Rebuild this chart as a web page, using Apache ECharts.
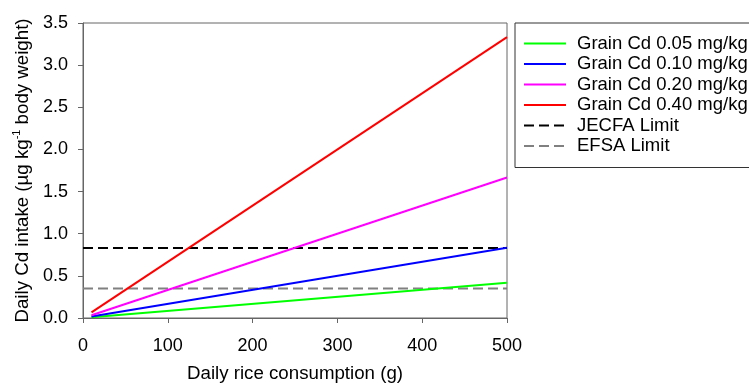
<!DOCTYPE html>
<html>
<head>
<meta charset="utf-8">
<script src="https://cdn.jsdelivr.net/npm/echarts@6/dist/echarts.min.js"></script>
<style>
  html, body { margin: 0; padding: 0; background: #fff; }
  #main { width: 749px; height: 383px; }
</style>
</head>
<body>
<div id="main"></div>
<script>
// rice consumption (g) at start / end of each line
const riceX = [10, 500];
const grain005 = [0.008, 0.417];
const grain010 = [0.017, 0.833];
const grain020 = [0.033, 1.667];
const grain040 = [0.067, 3.333];
// limits drawn across whole axis
const limitX = [0, 500];
const jecfa = [0.83, 0.83];
const efsa = [0.35, 0.35];

const FONT = 'Arial, "Liberation Sans", sans-serif';
const pairs = (xs, ys) => xs.map((x, i) => [x, ys[i]]);

const chart = echarts.init(document.getElementById('main'));

function lineSeries(name, xs, ys, color, dashed) {
  return {
    name: name,
    type: 'line',
    data: pairs(xs, ys),
    symbol: 'none',
    silent: true,
    animation: false,
    lineStyle: { color: color, width: 2, type: dashed ? [10, 5] : 'solid' },
    itemStyle: { color: color }
  };
}

chart.setOption({
  backgroundColor: '#fff',
  animation: false,
  grid: {
    left: 83, right: 242, top: 23, bottom: 65,
    outerBoundsMode: 'none',
    show: true, borderColor: '#666', borderWidth: 1
  },
  legend: {
    orient: 'vertical',
    left: 515, top: 23,
    padding: [11, 60, 12, 8],
    itemWidth: 42, itemHeight: 14, itemGap: 1.5,
    borderColor: '#333', borderWidth: 1,
    itemStyle: { opacity: 0 },
    textStyle: { fontFamily: FONT, fontSize: 18.5, color: '#000', padding: [0, 0, 0, 6] },
    data: ['Grain Cd 0.05 mg/kg', 'Grain Cd 0.10 mg/kg', 'Grain Cd 0.20 mg/kg',
           'Grain Cd 0.40 mg/kg', 'JECFA Limit', 'EFSA Limit']
  },
  xAxis: {
    type: 'value', min: 0, max: 500, interval: 100,
    name: 'Daily rice consumption (g)',
    nameLocation: 'middle', nameGap: 46,
    nameTextStyle: { fontFamily: FONT, fontSize: 18.7, color: '#000' },
    axisLine: { show: true, lineStyle: { color: '#666', width: 1 } },
    axisTick: { show: true, length: 5, lineStyle: { color: '#666' } },
    axisLabel: { fontFamily: FONT, fontSize: 18, color: '#000', margin: 19 },
    splitLine: { show: false }
  },
  yAxis: {
    type: 'value', min: 0, max: 3.5, interval: 0.5,
    name: '{a|Daily Cd intake (\u00b5g kg}{sup|-1}{a| body weight)}',
    nameLocation: 'middle', nameGap: 42, nameRotate: 90,
    nameTextStyle: {
      fontFamily: FONT, fontSize: 18.7, color: '#000',
      rich: {
        a: { fontFamily: FONT, fontSize: 18.7, color: '#000', lineHeight: 22 },
        sup: { fontFamily: FONT, fontSize: 11, color: '#000', lineHeight: 22, verticalAlign: 'top' }
      }
    },
    axisLine: { show: true, lineStyle: { color: '#666', width: 1 } },
    axisTick: { show: true, length: 5, lineStyle: { color: '#666' } },
    axisLabel: {
      fontFamily: FONT, fontSize: 18, color: '#000', margin: 15,
      formatter: v => v.toFixed(1)
    },
    splitLine: { show: false }
  },
  series: [
    lineSeries('JECFA Limit', limitX, jecfa, '#000000', true),
    lineSeries('EFSA Limit', limitX, efsa, '#808080', true),
    lineSeries('Grain Cd 0.05 mg/kg', riceX, grain005, '#00ff00', false),
    lineSeries('Grain Cd 0.10 mg/kg', riceX, grain010, '#0000ff', false),
    lineSeries('Grain Cd 0.20 mg/kg', riceX, grain020, '#ff00ff', false),
    lineSeries('Grain Cd 0.40 mg/kg', riceX, grain040, '#ff0000', false)
  ]
});
</script>
</body>
</html>
